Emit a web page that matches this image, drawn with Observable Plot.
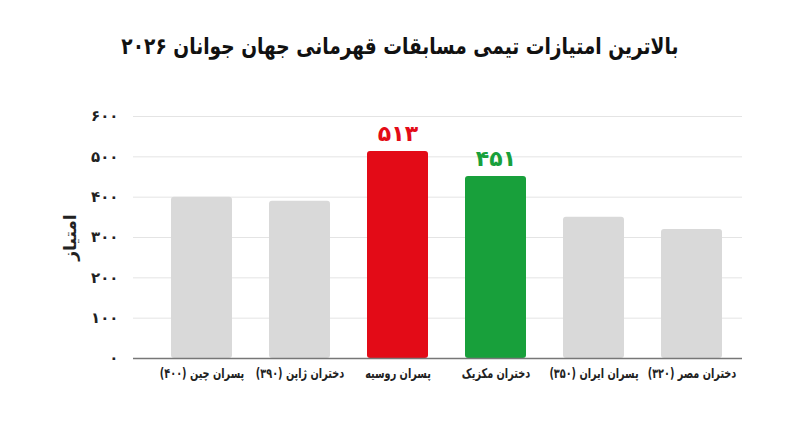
<!DOCTYPE html>
<html>
<head>
<meta charset="utf-8">
<script src="https://cdn.jsdelivr.net/npm/d3@7"></script>
<script src="https://cdn.jsdelivr.net/npm/@observablehq/plot@0.6"></script>
<style>
  html, body { margin: 0; padding: 0; background: #fff; }
  #wrap { width: 800px; height: 447px; position: relative; overflow: hidden; font-family: "DejaVu Sans", sans-serif; }
  #title { height: 80px; box-sizing: border-box; padding-top: 30px; text-align: center; }
  #title span { display: inline-block; font-size: 23px; font-weight: bold; color: #111; direction: rtl; line-height: 32px; transform: scaleX(0.81); white-space: nowrap; }
  #chart svg { display: block; }
</style>
</head>
<body>
<div id="wrap">
  <div id="title"><span>بالاترین امتیازات تیمی مسابقات قهرمانی جهان جوانان ۲۰۲۶</span></div>
  <div id="chart"></div>
</div>
<script>
const categories = [
  "پسران چین (۴۰۰)",
  "دختران ژاپن (۳۹۰)",
  "پسران روسیه",
  "دختران مکزیک",
  "پسران ایران (۳۵۰)",
  "دختران مصر (۳۲۰)"
];
const values = [400, 390, 513, 451, 350, 320];
const barColors = ["#d9d9d9", "#d9d9d9", "#e30b17", "#18a03b", "#d9d9d9", "#d9d9d9"];
const showValue = [false, false, true, true, false, false];
const yTicks = [0, 100, 200, 300, 400, 500, 600];
const yLabel = "امتیاز";

const data = categories.map((c, i) => ({cat: c, value: values[i], color: barColors[i], show: showValue[i]}));
const fa = d => Number(d).toLocaleString("fa-IR", {useGrouping: false});

const plot = Plot.plot({
  width: 800,
  height: 367,
  marginTop: 36,
  marginBottom: 89,
  marginLeft: 133,
  marginRight: 58,
  style: {fontFamily: "DejaVu Sans, sans-serif", background: "#fff"},
  x: {domain: categories, range: [151, 742], paddingInner: 0.376, paddingOuter: 0.19, label: null},
  y: {domain: [0, 600], label: null},
  marks: [
    Plot.gridY(yTicks, {stroke: "#e4e4e4", strokeOpacity: 1, strokeWidth: 1}),
    Plot.axisY(yTicks, {tickSize: 0, tickPadding: 15, tickFormat: fa, fontSize: 15, fontWeight: "bold", fill: "#222", label: null}),
    Plot.axisY({ticks: [], label: yLabel, labelAnchor: "center", labelArrow: "none", labelOffset: 70, fontSize: 17, fontWeight: "bold", fill: "#222"}),
    Plot.barY(data, {x: "cat", y: "value", fill: "color", rx: 3}),
    Plot.ruleY([0], {stroke: "#777", strokeWidth: 1.5}),
    Plot.axisX({tickSize: 0, tickPadding: 19, fontSize: 13.5, fontWeight: "bold", fill: "#222", label: null}),
    Plot.text(data.filter(d => d.show), {x: "cat", y: "value", text: d => fa(d.value), fill: "color", dy: -18, fontSize: 22, fontWeight: "bold"})
  ]
});
plot.querySelectorAll('[aria-label="x-axis tick label"] text').forEach(t => {
  t.setAttribute("direction", "rtl");
  const tr = t.getAttribute("transform") || "";
  const x = +t.getAttribute("x") || 0, y = +t.getAttribute("y") || 0;
  t.removeAttribute("x"); t.removeAttribute("y");
  t.setAttribute("transform", `${tr} translate(${x},${y}) scale(0.72,1)`);
});
document.getElementById("chart").appendChild(plot);
</script>
</body>
</html>
